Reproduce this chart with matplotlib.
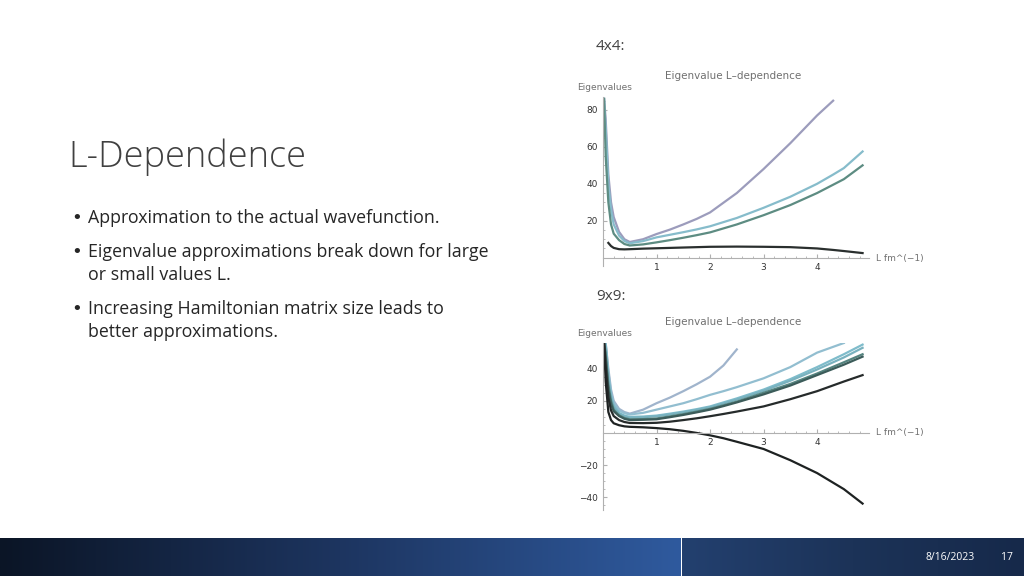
import matplotlib.pyplot as plt
import numpy as np
from matplotlib.ticker import MultipleLocator

W, H = 1024, 576

# 4x4 Hamiltonian: eigenvalues vs L
L4 = [0.02, 0.05, 0.1, 0.15, 0.2, 0.3, 0.4, 0.5, 0.75, 1.0, 1.25, 1.5, 1.75, 2.0, 2.5, 3.0, 3.5, 4.0, 4.3, 4.5, 4.85]
EIG4 = {
    "#9c9cbc": [86, 75, 45, 30, 22, 14, 10, 8.5, 10, 12.8, 15.2, 18, 21, 24.5, 35, 48, 62, 77, 85, None, None],
    "#86bccb": [86, 70, 40, 26, 18, 12, 9, 7.8, 9, 11, 12.4, 13.8, 15.3, 17, 21.5, 27, 33, 40, 45, 48.5, 57.5],
    "#5d8c82": [86, 55, 30, 18, 13, 9.5, 7.4, 6.6, 7.2, 8.3, 9.5, 10.8, 12.2, 13.7, 18, 23, 28.5, 35, 39.5, 42.5, 50],
    "#2a2f2e": [None, None, 8, 6.3, 5.3, 4.6, 4.5, 4.6, 4.9, 5.1, 5.3, 5.5, 5.7, 5.9, 6.0, 5.9, 5.7, 5.0, 4.2, 3.6, 2.5],
}

# 9x9 Hamiltonian
L9 = [0.02, 0.05, 0.1, 0.15, 0.2, 0.3, 0.4, 0.5, 0.75, 1.0, 1.25, 1.5, 1.75, 2.0, 2.25, 2.5, 3.0, 3.5, 4.0, 4.5, 4.85]
EIG9 = {
    "#a0b4cc": [56, 56, 40, 27, 20, 15, 13, 12, 14.5, 18.5, 22, 26, 30.3, 35, 42, 52, None, None, None, None, None],
    "#92bed0": [56, 56, 38, 25, 18.5, 14, 12.3, 11.5, 12.5, 14.5, 16.5, 18.5, 21, 23.7, 26, 28.5, 34, 41, 50, 56, None],
    "#7fbccb": [56, 55, 35, 23, 17, 12.5, 10.8, 10, 10.2, 10.8, 12, 13.3, 14.8, 16.5, 19, 21.5, 27, 33.5, 41, 49, 55],
    "#79b2bf": [56, 53, 33, 22, 16, 12, 10.3, 9.5, 9.8, 10.4, 11.5, 12.8, 14.3, 16, 18.3, 20.8, 26.2, 32.5, 39.5, 47, 53],
    "#54837f": [56, 50, 30, 20, 14.5, 11, 9.3, 8.5, 8.6, 9.0, 10.3, 11.7, 13.3, 15, 17.2, 19.5, 25, 30.5, 37, 44, 49],
    "#3c5c5a": [56, 47, 27, 18, 13.5, 10.5, 8.8, 8, 8.2, 8.5, 9.8, 11.2, 12.8, 14.5, 16.7, 19, 24, 29.5, 36, 42.5, 47.5],
    "#262b2b": [56, 42, 22, 14, 10.5, 8, 6.8, 6.2, 6.1, 6.3, 7.0, 8, 9.1, 10.4, 11.8, 13.3, 16.5, 21, 26, 32, 36],
    "#1e2222": [56, 32, 13, 8, 6, 4.8, 4.1, 3.8, 3.5, 3.0, 2.3, 1.3, 0, -1.5, -3.3, -5.5, -10, -17, -25, -35, -44],
}

fig = plt.figure(figsize=(W / 100, H / 100), dpi=100)
bg = fig.add_axes([0, 0, 1, 1])
bg.set_xlim(0, W)
bg.set_ylim(H, 0)
bg.axis("off")

# footer band
grad = np.linspace(0, 1, 256).reshape(1, -1)
left_cmap = plt.matplotlib.colors.LinearSegmentedColormap.from_list("l", ["#0b1526", "#1d3560", "#2f5a9e"])
right_cmap = plt.matplotlib.colors.LinearSegmentedColormap.from_list("r", ["#23406f", "#1c3358", "#16294a"])
bg.imshow(grad, cmap=left_cmap, extent=[0, 681, 576, 538], aspect="auto")
bg.imshow(grad, cmap=right_cmap, extent=[682, 1024, 576, 538], aspect="auto")
bg.set_xlim(0, W)
bg.set_ylim(H, 0)
bg.text(950, 557, "8/16/2023", color="white", fontsize=7.5, ha="center", va="center", family="Open Sans")
bg.text(1007, 557, "17", color="white", fontsize=7.5, ha="center", va="center", family="Open Sans")

bg.text(68, 157, "L-Dependence", fontsize=26, color="#404040", va="center", family="Open Sans", fontweight="light")
bullets = [
    (218, "Approximation to the actual wavefunction."),
    (252, "Eigenvalue approximations break down for large"),
    (275, "or small values L."),
    (309, "Increasing Hamiltonian matrix size leads to"),
    (332, "better approximations."),
]
for i, (y, s) in enumerate(bullets):
    if i in (0, 1, 3):
        bg.text(71, y, "\u2022", fontsize=13, color="#262626", va="center")
    bg.text(88, y, s, fontsize=12.8, color="#262626", va="center", family="Open Sans")

bg.text(596, 47, "4x4:", fontsize=11, color="#404040", va="center", family="Open Sans")
bg.text(596, 296, "9x9:", fontsize=11, color="#404040", va="center", family="Open Sans")


def make_axes(x0_px, x1_px, y_top_px, y_bot_px, xlim, ylim):
    ax = fig.add_axes([x0_px / W, 1 - y_bot_px / H, (x1_px - x0_px) / W, (y_bot_px - y_top_px) / H])
    ax.set_xlim(*xlim)
    ax.set_ylim(*ylim)
    ax.patch.set_alpha(0)
    for s in ("top", "right"):
        ax.spines[s].set_visible(False)
    ax.spines["left"].set_position(("data", 0))
    ax.spines["bottom"].set_position(("data", 0))
    for s in ("left", "bottom"):
        ax.spines[s].set_color("#b0b0b0")
        ax.spines[s].set_linewidth(0.8)
    ax.xaxis.set_minor_locator(MultipleLocator(0.2))
    ax.yaxis.set_minor_locator(MultipleLocator(5))
    ax.tick_params(which="both", colors="#b0b0b0", labelcolor="#333333", labelsize=6.5, direction="in")
    ax.tick_params(which="major", length=3)
    ax.tick_params(which="minor", length=1.5)
    ax.set_xticks([1, 2, 3, 4])
    return ax


def draw(ax, xs, curves, lw):
    for color, ys in curves.items():
        pts = [(x, y) for x, y in zip(xs, ys) if y is not None]
        ax.plot([p[0] for p in pts], [p[1] for p in pts], color=color, lw=lw)


ax1 = make_axes(603, 869, 97, 266, (0, 4.97), (-4.5, 87))
ax1.set_yticks([20, 40, 60, 80])
draw(ax1, L4, EIG4, 1.6)
bg.text(733, 76, "Eigenvalue L\u2013dependence", ha="center", va="center", fontsize=7.5, color="#707070")
bg.text(577, 88, "Eigenvalues", va="center", fontsize=6.5, color="#707070")
bg.text(876, 258, "L fm^(\u22121)", va="center", fontsize=6.5, color="#707070")

ax2 = make_axes(603, 869, 343, 510, (0, 4.97), (-48, 56))
ax2.set_yticks([-40, -20, 20, 40])
draw(ax2, L9, EIG9, 1.6)
bg.text(733, 322, "Eigenvalue L\u2013dependence", ha="center", va="center", fontsize=7.5, color="#707070")
bg.text(577, 334, "Eigenvalues", va="center", fontsize=6.5, color="#707070")
bg.text(876, 433, "L fm^(\u22121)", va="center", fontsize=6.5, color="#707070")

fig.savefig("out.png", dpi=100)
